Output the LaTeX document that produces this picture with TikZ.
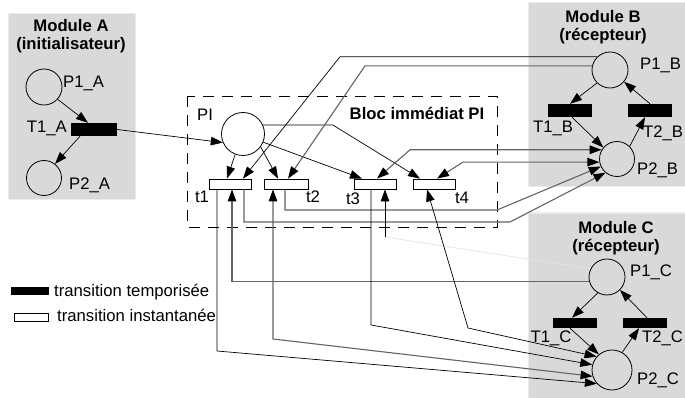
\documentclass[tikz,border=0pt]{standalone}
\usepackage{fontspec}
\setmainfont{Liberation Sans}
\usetikzlibrary{arrows.meta,calc}
\definecolor{boxgray}{RGB}{217,217,217}
\definecolor{boxedge}{RGB}{236,236,236}
\definecolor{linegray}{RGB}{100,100,100}
\definecolor{faint}{RGB}{228,228,228}
\begin{document}
\begin{tikzpicture}[x=1pt,y=-1pt,
  font=\fontsize{16.7}{18.5}\selectfont,
  module/.style={fill=boxgray,draw=boxedge,line width=1pt},
  place/.style={circle,draw,line width=0.8pt,inner sep=0pt,minimum size=#1},
  place/.default=35pt,
  timed/.style={rectangle,fill=black,inner sep=0pt,minimum width=44pt,minimum height=13pt},
  inst/.style={rectangle,draw,fill=white,line width=0.8pt,inner sep=0pt,minimum width=42pt,minimum height=10pt},
  tarc/.style={line width=0.7pt,-{Triangle[length=12pt,width=8.5pt,color=black]}},
  garc/.style={line width=1.1pt,draw=linegray,-{Triangle[length=12pt,width=8.5pt,color=black]}},
  tdbl/.style={line width=0.7pt,{Triangle[length=12pt,width=8.5pt,color=black]}-{Triangle[length=12pt,width=8.5pt,color=black]}},
  gdbl/.style={line width=1.1pt,draw=linegray,{Triangle[length=12pt,width=8.5pt,color=black]}-{Triangle[length=12pt,width=8.5pt,color=black]}},
  title/.style={font=\bfseries\fontsize{16.7}{18.5}\selectfont,align=center},
  lab/.style={inner sep=0pt}
]
\useasboundingbox (0,0) rectangle (685,398);
\fill[white] (0,0) rectangle (685,398);

% module boxes
\path[module] (8,14) rectangle (135,200);
\path[module] (528,3) rectangle (700,187);
\path[module] (528,213) rectangle (700,420);

% dashed block
\draw[line width=0.8pt,dash pattern=on 11pt off 8pt] (187,96) rectangle (497,227);

% titles
\node[title] (tA) at (71,36) {Module A\\(initialisateur)};
\node[title] (tB) at (603,27) {Module B\\(récepteur)};
\node[title] (tC) at (616,238) {Module C\\(récepteur)};
\node[font=\bfseries\fontsize{16.7}{18.5}\selectfont] (tPI) at (417,113) {Bloc immédiat PI};

% places
\node[place=36pt] (P1A) at (44,87) {};
\node[place=35pt] (P2A) at (44,178) {};
\node[place=43pt] (PI) at (243,134) {};
\node[place=36pt] (P1B) at (610,70) {};
\node[place=35pt] (P2B) at (617,159) {};
\node[place=36pt] (P1C) at (607,277) {};
\node[place=40pt] (P2C) at (612,370) {};

% timed transitions
\node[timed,minimum width=46pt] (T1A) at (94,129.5) {};
\node[timed] (T1B) at (570,110.5) {};
\node[timed] (T2B) at (650,110.5) {};
\node[timed,minimum height=10pt] (T1C) at (575,323) {};
\node[timed,minimum height=10pt] (T2C) at (645,323) {};

% instantaneous transitions
\node[inst] (t1) at (230,184) {};
\node[inst,minimum width=44pt] (t2) at (286,184) {};
\node[inst] (t3) at (375,184) {};
\node[inst] (t4) at (434,184) {};

% labels
\node[lab,anchor=west] (lP1A) at (63,83) {P1\_A};
\node[lab,anchor=east] (lT1A) at (67,128) {T1\_A};
\node[lab,anchor=west] (lP2A) at (69,185) {P2\_A};
\node[lab] (lPI) at (205,115) {PI};
\node[lab] (lt1) at (202,197) {t1};
\node[lab] (lt2) at (313,197) {t2};
\node[lab] (lt3) at (353,199) {t3};
\node[lab] (lt4) at (462,198) {t4};
\node[lab,anchor=west] (lP1B) at (640,65) {P1\_B};
\node[lab] (lT1B) at (553,128) {T1\_B};
\node[lab,anchor=west] (lT2B) at (643,133) {T2\_B};
\node[lab,anchor=west] (lP2B) at (637,170) {P2\_B};
\node[lab,anchor=west] (lP1C) at (630,272) {P1\_C};
\node[lab] (lT1C) at (551,338) {T1\_C};
\node[lab,anchor=west] (lT2C) at (642,338) {T2\_C};
\node[lab,anchor=west] (lP2C) at (637,380) {P2\_C};

% legend
\node[rectangle,fill=black,inner sep=0pt,minimum width=38pt,minimum height=8pt] (legT) at (30,291) {};
\node[lab,anchor=west] (legTt) at (54,292) {transition temporisée};
\node[rectangle,draw,fill=white,line width=0.8pt,inner sep=0pt,minimum width=34pt,minimum height=8pt] (legI) at (31,317) {};
\node[lab,anchor=west] (legIt) at (57,315) {transition instantanée};

% helper coordinates
\coordinate (b2) at (340,0);
\coordinate (b3) at (365,0);
\coordinate (b4) at (410,0);
\coordinate (b5) at (463,0);
\coordinate (b6) at (333,0);
\coordinate (b8) at (497,210);
\coordinate (b9) at (510,222);
\coordinate (y351) at (0,351);
\coordinate (y339) at (0,339);
\coordinate (y325) at (0,325);
\coordinate (y237) at (0,237);
\coordinate (b12) at (468,328);
\coordinate (s1) at ($(t1.south)+(-13,0)$);
\coordinate (s2) at ($(t1.south)+(2,0)$);
\coordinate (s3) at ($(t2.south)+(-13,0)$);
\coordinate (s4) at ($(t3.south)+(-4,0)$);
\coordinate (s5) at ($(t3.south)+(10,0)$);
\coordinate (s6) at ($(t4.south)+(-7,0)$);
\coordinate (s7) at ($(t2.south)+(-1,0)$);
\coordinate (s8) at ($(t1.south)+(14,0)$);
\coordinate (f1) at (s5 |- y237);

% module A
\draw[tarc] (P1A.-42) -- ($(T1A.north)+(-6,0)$);
\draw[tarc] ($(T1A.south)+(-14,0)$) -- (P2A.52);
\draw[tarc] (T1A.east) -- (PI.203);

% PI outputs
\draw[tarc] (PI.249) -- ($(t1.north)+(-3,0)$);
\draw[tarc] (PI.-36) -- ($(t2.north)+(-8,0)$);
\draw[tarc] (PI.-22) -- ($(t3.north)+(-13,0)$);
\draw[tarc] (PI.24) -- (PI.24 -| b6) -- ($(t4.north)+(-14,0)$);

% module B internal
\draw[tarc] (P1B.225) -- (T1B.north);
\draw[tarc] ($(T1B.south)+(2,0)$) -- (P2B.140);
\draw[tarc] (P2B.45) -- ($(T2B.south)+(-5,0)$);
\draw[tarc] (T2B.north) -- (P1B.-40);

% module C internal
\draw[tarc] (P1C.240) -- ($(T1C.north)+(-3,0)$);
\draw[tarc] ($(T1C.south)+(-5,0)$) -- (P2C.130);
\draw[tarc] (P2C.60) -- ($(T2C.south)+(-6,0)$);
\draw[tarc] ($(T2C.north)+(2,0)$) -- (P1C.-45);

% links with module B
\draw[tarc] (P1B.134) -- (P1B.134 -| b2) -- ($(t1.north)+(13,0)$);
\draw[garc] (P1B.167) -- (P1B.167 -| b3) -- ($(t2.north)+(2,0)$);
\draw[gdbl] ($(t3.north)+(2,0)$) -- (P2B.149 -| b4) -- (P2B.149);
\draw[gdbl] ($(t4.north)+(3,0)$) -- (P2B.190 -| b5) -- (P2B.190);
\draw[garc] (s7) |- (b8) -- (P2B.205);
\draw[garc] (s8) |- (b9) -- (P2B.230);

% links with module C
\draw[tarc] (s1) -- (s1 |- y351) -- (P2C.222);
\draw[garc] (P1C.193) -- (P1C.193 -| s2) -- (s2);
\draw[gdbl] (s3) -- (s3 |- y339) -- (P2C.198);
\draw[tarc] (s4) -- (s4 |- y325) -- (P2C.165);
\draw[line width=0.7pt,draw=faint] (P1C.153) -- (f1);
\draw[tarc] (f1) -- (s5);
\draw[tdbl] (s6) -- (b12) -- (P2C.139);
\end{tikzpicture}
\end{document}
